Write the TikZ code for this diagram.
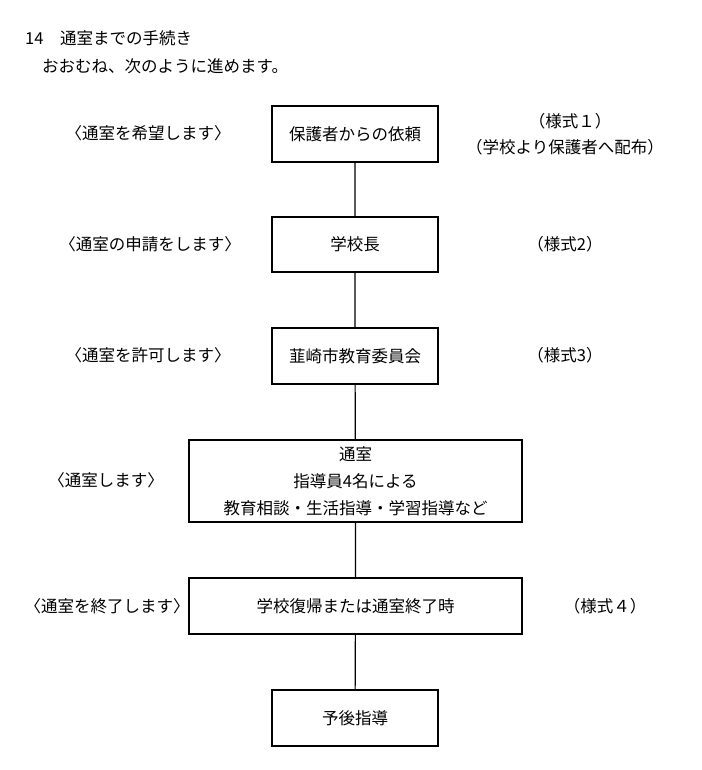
\documentclass[tikz,border=0pt]{standalone}
\usepackage{fontspec}
\setmainfont{Noto Sans CJK JP}
\begin{document}
\begin{tikzpicture}[x=1pt,y=-1pt,
 box/.style={draw,line width=1.2pt,inner sep=0pt,align=center,font=\fontsize{16.5}{27}\selectfont},
 lab/.style={font=\fontsize{16.5}{17}\selectfont,inner sep=0pt,align=center}]
\useasboundingbox (0,0) rectangle (701,770);
\node[lab,anchor=west] (t1) at (25,38) {14\quad 通室までの手続き};
\node[lab,anchor=west] (t2) at (42,66) {おおむね、次のように進めます。};
\node[box,minimum width=166pt,minimum height=56pt] (b1) at (355,134) {保護者からの依頼};
\node[box,minimum width=166pt,minimum height=55pt] (b2) at (355,244.5) {学校長};
\node[box,minimum width=166pt,minimum height=56pt] (b3) at (355,356) {韮崎市教育委員会};
\node[box,minimum width=333pt,minimum height=82pt] (b4) at (355.5,481) {通室\\指導員4名による\\教育相談・生活指導・学習指導など};
\node[box,minimum width=333pt,minimum height=56pt] (b5) at (355.5,606) {学校復帰または通室終了時};
\node[box,minimum width=166pt,minimum height=56pt] (b6) at (355,718) {予後指導};
\draw[line width=1.2pt] (b1)--(b2) (b2)--(b3) (b3)--(b4) (b4)--(b5) (b5)--(b6);
\node[lab] (l1) at (148,133) {〈通室を希望します〉};
\node[lab] (l2) at (150,244) {〈通室の申請をします〉};
\node[lab] (l3) at (148,355) {〈通室を許可します〉};
\node[lab] (l4) at (106,480) {〈通室します〉};
\node[lab] (l5) at (107,606) {〈通室を終了します〉};
\node[lab] (r1) at (570,121) {（様式１）};
\node[lab] (r1b) at (565,147) {（学校より保護者へ配布）};
\node[lab] (r2) at (565,244) {（様式2）};
\node[lab] (r3) at (565,355) {（様式3）};
\node[lab] (r5) at (605,606) {（様式４）};
\end{tikzpicture}
\end{document}
